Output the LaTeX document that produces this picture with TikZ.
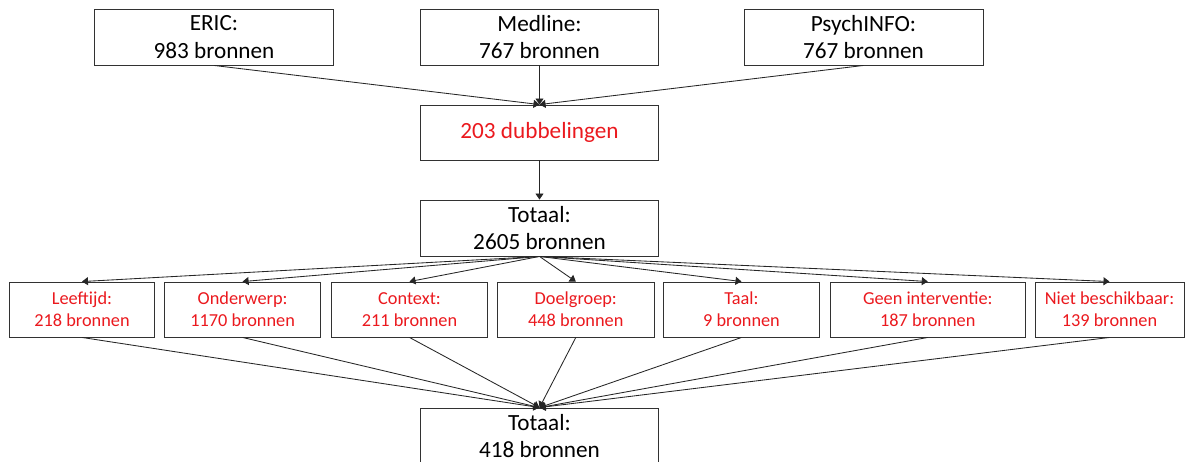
\documentclass[tikz,border=0pt]{standalone}
\usepackage{fontspec}
\setmainfont{Carlito}
\usetikzlibrary{arrows.meta}
\definecolor{boxline}{RGB}{50,50,50}
\definecolor{redtext}{RGB}{235,25,30}
\tikzset{
  base/.style={draw=boxline, line width=0.9pt, inner sep=0pt, align=center, fill=white},
  bigbox/.style={base, minimum width=238pt, minimum height=56pt, font=\fontsize{23.2}{27.7}\selectfont},
  smallbox/.style={base, minimum height=55pt, text=redtext, font=\fontsize{18.3}{22.4}\selectfont},
  conn/.style={draw=black!85, line width=0.85pt, -{Triangle[length=6pt,width=8pt]}}
}
\begin{document}
\begin{tikzpicture}[x=1pt,y=-1pt]
\useasboundingbox (0,0) rectangle (1186,461);
\clip (0,0) rectangle (1186,461);
\node[bigbox, minimum width=239pt] (eric) at (214,37) {ERIC:\\983 bronnen};
\node[bigbox] (medline) at (539.5,37) {Medline:\\767 bronnen};
\node[bigbox, minimum width=239pt] (psych) at (863.5,37) {PsychINFO:\\767 bronnen};
\node[bigbox, minimum height=55pt, text=redtext] (dub) at (539.5,132.5) {\raisebox{1.5pt}{203 dubbelingen}};
\node[bigbox] (tot) at (539.5,228) {Totaal:\\2605 bronnen};
\node[smallbox, minimum width=144.6pt] (leef) at (82,309.5) {Leeftijd:\\218 bronnen};
\node[smallbox, minimum width=156pt] (onder) at (242.6,309.5) {Onderwerp:\\1170 bronnen};
\node[smallbox, minimum width=156pt] (context) at (409.5,309.5) {Context:\\211 bronnen};
\node[smallbox, minimum width=156.6pt] (doel) at (575.8,309.5) {Doelgroep:\\448 bronnen};
\node[smallbox, minimum width=156.5pt] (taal) at (741.5,309.5) {Taal:\\9 bronnen};
\node[smallbox, minimum width=195pt] (geen) at (927.8,309.5) {Geen interventie:\\187 bronnen};
\node[smallbox, minimum width=149pt] (niet) at (1109.5,309.5) {Niet beschikbaar:\\139 bronnen};
\node[bigbox] (fin) at (539.5,436) {Totaal:\\418 bronnen};
\draw[conn] (eric.south) -- (dub.north);
\draw[conn] (medline.south) -- (dub.north);
\draw[conn] (psych.south) -- (dub.north);
\draw[conn] (dub.south) -- (tot.north);
\foreach \n in {leef,onder,context,doel,taal,geen,niet}{
  \draw[conn] (tot.south) -- (\n.north);
  \draw[conn] (\n.south) -- (fin.north);
}
\end{tikzpicture}
\end{document}
